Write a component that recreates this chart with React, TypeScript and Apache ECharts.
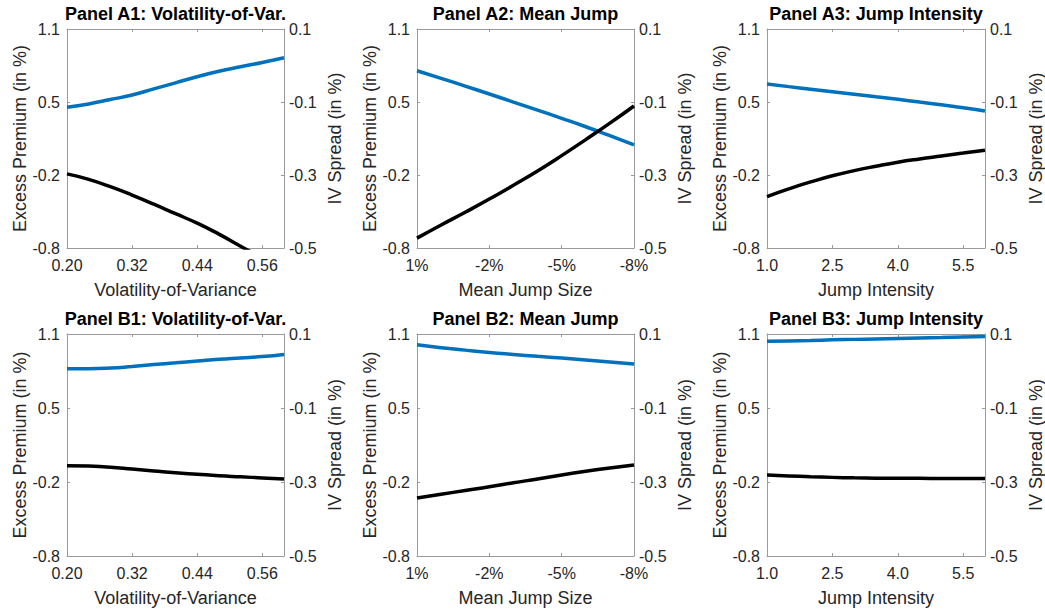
import React, { useEffect, useRef } from 'react';
import * as echarts from 'echarts';

// Parameter grids (x values)
const volOfVar = [0.2, 0.24, 0.28, 0.32, 0.36, 0.4, 0.44, 0.48, 0.52, 0.56, 0.6];
const meanJump = [1, 0, -1, -2, -3, -4, -5, -6, -7, -8];
const jumpIntensity = [1.0, 1.5, 2.0, 2.5, 3.0, 3.5, 4.0, 4.5, 5.0, 5.5, 6.0];

// Tick positions and labels
const volTicks = [0.2, 0.32, 0.44, 0.56];
const jumpTicks = [1, -2, -5, -8];
const intensityTicks = [1.0, 2.5, 4.0, 5.5];
const premiumTickLabels = ['-0.8', '-0.2', '0.5', '1.1'];
const spreadTicks = [-0.5, -0.3, -0.1, 0.1];

// Panel A: excess premium (left axis) and IV spread (right axis)
const a1Premium = [0.421, 0.45, 0.488, 0.527, 0.58, 0.633, 0.686, 0.733, 0.772, 0.81, 0.851];
const a1Spread = [-0.297, -0.312, -0.332, -0.355, -0.38, -0.406, -0.432, -0.462, -0.495, -0.528, -0.56];
const a2Premium = [0.738, 0.672, 0.605, 0.536, 0.466, 0.396, 0.325, 0.252, 0.174, 0.094];
const a2Spread = [-0.473, -0.437, -0.402, -0.366, -0.328, -0.289, -0.247, -0.203, -0.158, -0.111];
const a3Premium = [0.623, 0.6, 0.578, 0.556, 0.534, 0.512, 0.49, 0.466, 0.442, 0.417, 0.389];
const a3Spread = [-0.359, -0.338, -0.319, -0.302, -0.288, -0.276, -0.265, -0.256, -0.248, -0.24, -0.232];

// Panel B
const b1Premium = [0.802, 0.802, 0.808, 0.822, 0.838, 0.853, 0.868, 0.883, 0.895, 0.907, 0.925];
const b1Spread = [-0.256, -0.257, -0.26, -0.265, -0.27, -0.275, -0.279, -0.283, -0.286, -0.289, -0.292];
const b2Premium = [1.008, 0.983, 0.962, 0.942, 0.925, 0.909, 0.894, 0.878, 0.861, 0.843];
const b2Spread = [-0.343, -0.333, -0.323, -0.313, -0.302, -0.292, -0.281, -0.271, -0.262, -0.254];
const b3Premium = [1.037, 1.041, 1.045, 1.05, 1.054, 1.058, 1.062, 1.066, 1.07, 1.075, 1.079];
const b3Spread = [-0.281, -0.2835, -0.2858, -0.2875, -0.2888, -0.2896, -0.29, -0.2902, -0.2903, -0.2903, -0.2903];

const FONT = '"Liberation Sans", Arial, Helvetica, sans-serif';
const TEXT = '#262626';
const BOX = '#9a9a9a';
const BLUE = '#0072BD';
const BLACK = '#000000';

const PREMIUM_MIN = -0.8;
const PREMIUM_MAX = 1.1;
const SPREAD_MIN = -0.5;
const SPREAD_MAX = 0.1;

type AxisKind = {
  x: number[];
  ticks: number[];
  min: number;
  max: number;
  inverse: boolean;
  fmt: (v: number) => string;
  name: string;
};

const volAxis: AxisKind = {
  x: volOfVar, ticks: volTicks, min: 0.2, max: 0.6, inverse: false,
  fmt: (v) => v.toFixed(2), name: 'Volatility-of-Variance',
};
const jumpAxis: AxisKind = {
  x: meanJump, ticks: jumpTicks, min: -8, max: 1, inverse: true,
  fmt: (v) => `${Math.round(v)}%`, name: 'Mean Jump Size',
};
const intensityAxis: AxisKind = {
  x: jumpIntensity, ticks: intensityTicks, min: 1, max: 6, inverse: false,
  fmt: (v) => v.toFixed(1), name: 'Jump Intensity',
};

const panels = [
  { title: 'Panel A1: Volatility-of-Var.', axis: volAxis, premium: a1Premium, spread: a1Spread },
  { title: 'Panel A2: Mean Jump', axis: jumpAxis, premium: a2Premium, spread: a2Spread },
  { title: 'Panel A3: Jump Intensity', axis: intensityAxis, premium: a3Premium, spread: a3Spread },
  { title: 'Panel B1: Volatility-of-Var.', axis: volAxis, premium: b1Premium, spread: b1Spread },
  { title: 'Panel B2: Mean Jump', axis: jumpAxis, premium: b2Premium, spread: b2Spread },
  { title: 'Panel B3: Jump Intensity', axis: intensityAxis, premium: b3Premium, spread: b3Spread },
];

// Plot boxes, row by row
const colLefts = [67, 417, 767];
const colWidths = [217, 217, 218];
const rowTops = [29, 334];
const rowHeights = [219, 222];

function buildOption() {
  const premiumTickValues = premiumTickLabels.map(
    (_, i) => PREMIUM_MIN + ((PREMIUM_MAX - PREMIUM_MIN) * i) / (premiumTickLabels.length - 1)
  );

  const grid: any[] = [];
  const xAxis: any[] = [];
  const yAxis: any[] = [];
  const series: any[] = [];
  const graphic: any[] = [];

  const labelStyle = { color: TEXT, fontSize: 16, fontFamily: FONT };
  const nameStyle = { color: TEXT, fontSize: 18, fontFamily: FONT };
  const lineStyle = { color: BOX, width: 1 };

  panels.forEach((p, i) => {
    const col = i % 3;
    const row = Math.floor(i / 3);
    const left = colLefts[col];
    const width = colWidths[col];
    const top = rowTops[row];
    const height = rowHeights[row];
    grid.push({ left, top, width, height, containLabel: false, outerBoundsMode: 'none' });

    const ax = p.axis;
    xAxis.push({
      type: 'value', gridIndex: i, position: 'bottom',
      min: ax.min, max: ax.max, inverse: ax.inverse,
      name: ax.name, nameLocation: 'middle', nameGap: 33, nameTextStyle: nameStyle,
      axisLine: { show: true, onZero: false, lineStyle },
      axisTick: { show: true, inside: true, length: 3, customValues: ax.ticks, lineStyle },
      axisLabel: { show: true, customValues: ax.ticks, formatter: (v: number) => ax.fmt(v), margin: 9, ...labelStyle },
      splitLine: { show: false },
    });
    xAxis.push({
      type: 'value', gridIndex: i, position: 'top',
      min: ax.min, max: ax.max, inverse: ax.inverse,
      axisLine: { show: true, onZero: false, lineStyle },
      axisTick: { show: true, inside: true, length: 3, customValues: ax.ticks, lineStyle },
      axisLabel: { show: false },
      splitLine: { show: false },
    });

    yAxis.push({
      type: 'value', gridIndex: i, position: 'left',
      min: PREMIUM_MIN, max: PREMIUM_MAX,
      name: 'Excess Premium (in %)', nameLocation: 'middle', nameRotate: 90, nameGap: 38,
      nameTextStyle: nameStyle,
      axisLine: { show: true, onZero: false, lineStyle },
      axisTick: { show: true, inside: true, length: 3, customValues: premiumTickValues, lineStyle },
      axisLabel: {
        show: true, customValues: premiumTickValues, margin: 7,
        formatter: (v: number) => v.toFixed(1), ...labelStyle,
      },
      splitLine: { show: false },
    });
    yAxis.push({
      type: 'value', gridIndex: i, position: 'right',
      min: SPREAD_MIN, max: SPREAD_MAX,
      name: 'IV Spread (in %)', nameLocation: 'middle', nameRotate: 90, nameGap: 42,
      nameTextStyle: nameStyle,
      axisLine: { show: true, onZero: false, lineStyle },
      axisTick: { show: true, inside: true, length: 3, customValues: spreadTicks, lineStyle },
      axisLabel: {
        show: true, customValues: spreadTicks, margin: 5,
        formatter: (v: number) => v.toFixed(1), ...labelStyle,
      },
      splitLine: { show: false },
    });

    series.push({
      type: 'line', xAxisIndex: 2 * i, yAxisIndex: 2 * i,
      data: ax.x.map((x, k) => [x, p.premium[k]]),
      showSymbol: false, smooth: 0.5, clip: true,
      lineStyle: { color: BLUE, width: 3.5 },
    });
    series.push({
      type: 'line', xAxisIndex: 2 * i, yAxisIndex: 2 * i + 1,
      data: ax.x.map((x, k) => [x, p.spread[k]]),
      showSymbol: false, smooth: 0.5, clip: true,
      lineStyle: { color: BLACK, width: 3.5 },
    });

    graphic.push({
      type: 'text',
      x: left + width / 2,
      y: top - 15,
      style: {
        text: p.title,
        fill: '#000',
        font: `bold 18px ${FONT}`,
        textAlign: 'center',
        textVerticalAlign: 'middle',
      },
    });
  });

  return {
    animation: false,
    backgroundColor: '#ffffff',
    grid,
    xAxis,
    yAxis,
    series,
    graphic,
  };
}

export default function App() {
  const ref = useRef<HTMLDivElement>(null);
  useEffect(() => {
    if (!ref.current) return;
    const chart = echarts.init(ref.current, null, { renderer: 'svg' });
    chart.setOption(buildOption());
    return () => chart.dispose();
  }, []);
  return (
    <div
      ref={ref}
      style={{ position: 'absolute', left: 0, top: 0, width: 1045, height: 611, background: '#fff' }}
    />
  );
}
